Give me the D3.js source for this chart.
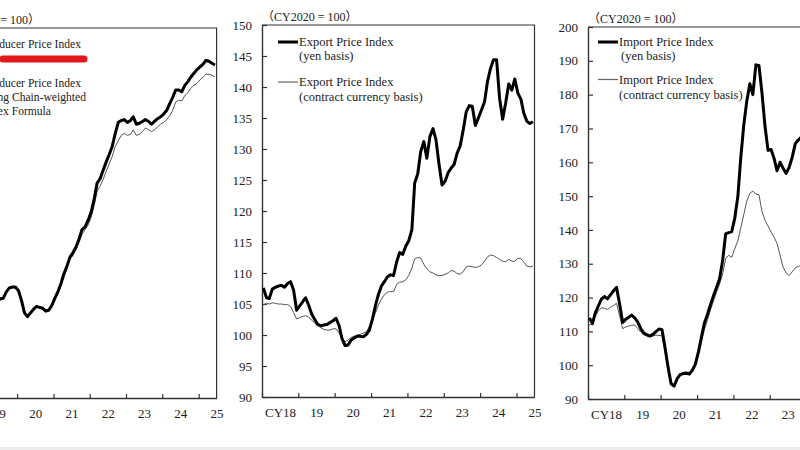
<!DOCTYPE html>
<html><head><meta charset="utf-8">
<script src="https://cdn.jsdelivr.net/npm/d3@7"></script>
<style>
body{margin:0;background:#fff}
svg{display:block}
text{font-family:"Liberation Serif","Times New Roman",serif;fill:#222}
</style>
</head><body>
<svg id="c" width="800" height="450"></svg>
<script>
// ---------- categories / tick labels ----------
const yearLabels = ["CY18","19","20","21","22","23","24","25"];
const months = d3.timeMonths(new Date(2018,0,1), new Date(2025,6,1)); // Jan 2018 .. Jun 2025
const ppiTicks = [90,95,100,105,110,115,120,125,130];
const exportTicks = [90,95,100,105,110,115,120,125,130,135,140,145,150];
const importTicks = [90,100,110,120,130,140,150,160,170,180,190,200];

// ---------- series (CY2020 = 100) ----------
const ppi = [101.2,101.3,101.2,101.5,101.8,101.9,102.2,102.4,102.4,102.6,102.2,101.5,
 101.6,101.8,101.7,101.6,101.2,100.9,100.7,100.8,101.5,101.9,102.0,102.0,
 101.6,100.5,99.2,98.8,99.2,99.6,99.9,99.8,99.7,99.4,99.5,100.0,
 100.8,101.5,102.3,103.4,104.2,105.2,105.7,106.3,107.2,108.2,108.5,109.2,
 110.1,111.5,113.2,113.7,114.6,115.5,116.3,117.2,118.6,119.8,120.0,120.1,
 119.8,120.0,120.4,119.6,119.7,119.9,120.1,119.9,119.6,119.9,120.2,120.4,
 120.7,121.1,121.8,122.5,123.3,123.3,123.1,123.8,124.2,124.7,125.1,125.5,
 125.8,126.1,126.5,126.4,126.2,126.0];
const ppiChain = [101.1,101.2,101.1,101.4,101.7,101.8,102.1,102.3,102.3,102.5,102.1,101.4,
 101.5,101.7,101.6,101.5,101.1,100.8,100.6,100.7,101.4,101.8,101.9,101.9,
 101.5,100.4,99.1,98.7,99.1,99.5,99.8,99.7,99.6,99.3,99.4,99.9,
 100.6,101.3,102.1,103.1,103.9,105.0,105.4,106.0,106.8,107.7,108.2,108.7,
 109.5,110.8,112.3,112.9,113.6,114.5,115.3,116.1,117.2,117.8,118.4,118.6,
 118.4,118.5,119.0,118.4,118.5,118.8,119.2,119.0,118.8,119.0,119.3,119.6,
 119.8,120.1,120.5,121.1,122.0,122.2,122.1,122.7,123.0,123.5,123.8,124.0,
 124.4,124.7,125.0,125.0,124.9,124.7];
const exportYen = [107.6,106.0,105.9,107.4,107.7,107.9,108.0,107.7,108.3,108.6,107.2,104.0,
 104.7,105.4,106.0,104.8,103.4,102.5,101.7,101.5,101.6,101.7,102.0,102.3,
 102.7,101.5,99.4,98.3,98.4,99.2,99.5,99.8,99.8,99.7,100.1,100.8,
 102.6,104.8,106.5,107.9,108.6,109.4,109.7,109.6,111.8,113.3,113.0,114.3,
 115.2,117.0,124.5,126.0,129.6,131.2,128.5,132.0,133.3,131.5,127.5,124.2,
 124.8,126.2,126.9,127.5,129.3,130.5,133.0,136.0,137.0,136.9,133.8,135.0,
 136.3,137.6,140.8,143.0,144.4,144.4,138.2,134.8,137.5,140.5,139.5,141.3,
 139.0,138.0,135.8,134.5,134.1,134.4];
const exportContract = [104.9,105.1,105.0,105.2,105.1,105.0,105.0,104.9,104.9,104.6,103.6,102.6,
 102.8,103.0,103.1,102.9,102.4,101.9,101.5,101.2,100.9,100.8,100.8,101.0,
 101.0,100.3,99.5,98.9,99.2,99.6,99.8,100.0,100.1,100.3,100.5,101.4,
 102.5,103.6,104.8,105.8,106.5,106.9,107.0,107.0,108.2,108.5,108.6,108.9,
 109.6,110.8,112.3,112.5,112.4,111.4,110.7,110.2,110.0,109.7,109.6,109.6,
 109.8,110.0,110.4,110.3,109.9,109.8,110.2,111.0,111.1,111.0,110.9,111.0,
 111.3,111.9,112.6,112.9,112.8,112.5,112.2,111.9,111.8,112.2,111.9,111.9,
 112.4,112.3,111.8,111.1,111.0,111.1];
const importYen = [114.0,112.3,115.5,117.5,119.5,120.3,119.6,120.8,122.0,123.0,118.0,112.6,
 113.6,114.2,114.8,114.0,112.8,110.8,109.5,109.0,108.6,109.1,109.9,110.7,
 110.5,105.0,99.5,94.5,93.8,96.0,97.2,97.5,97.6,97.4,98.5,100.3,
 104.0,108.5,112.4,115.0,117.8,120.5,123.0,125.5,131.0,138.8,139.2,139.5,
 143.5,150.0,161.0,171.0,178.0,183.2,180.0,188.8,188.6,180.5,170.5,163.5,
 163.8,161.0,157.5,160.0,158.2,156.7,158.5,161.5,165.5,166.6,167.5,170.0,
 172.0,174.0,175.5,174.5,169.0,164.0,165.0,167.0,168.5,170.0,169.0,166.5,
 163.0,160.5,158.5,157.0,157.5,158.0];
const importContract = [111.9,112.2,114.5,116.0,117.0,116.8,116.5,117.1,117.7,118.3,114.5,110.8,
 111.3,111.6,111.8,111.9,110.8,109.8,109.0,108.6,108.4,108.6,108.9,108.8,
 108.7,104.0,99.0,94.6,94.0,96.2,97.5,97.9,98.0,97.8,98.6,100.0,
 103.0,107.0,110.5,113.3,116.3,119.0,121.5,124.0,127.0,131.5,132.5,131.9,
 134.5,136.8,140.5,144.5,148.5,150.8,151.5,150.6,150.4,145.5,142.8,141.2,
 139.3,137.8,136.0,132.5,129.0,127.3,126.5,127.6,128.8,129.2,129.5,130.0,
 130.5,131.5,132.0,131.0,129.5,128.5,128.0,128.5,129.0,129.5,129.0,128.0,
 127.0,126.0,125.0,124.5,124.5,124.0];

// ---------- layout ----------
const svg = d3.select("#c");
svg.append("rect").attr("x",0).attr("y",447).attr("width",800).attr("height",3).attr("fill","#ececec");

const panels = [
  {x0:-55.4, x1:216.6, top:28, bot:398, dom:[90,130], ticks:ppiTicks,
   thick:ppi, thin:ppiChain, legend:null},
  {x0:262, x1:534.5, top:25, bot:397, dom:[90,150], ticks:exportTicks,
   thick:exportYen, thin:exportContract,
   legend:{lx:278, tx:299, tx2:299, y1:42, y2:82,
     t:["Export Price Index","(yen basis)","Export Price Index","(contract currency basis)"]}},
  {x0:588, x1:860.5, top:27, bot:399, dom:[90,200], ticks:importTicks,
   thick:importYen, thin:importContract,
   legend:{lx:598, tx:619, tx2:621, y1:42, y2:79.5,
     t:["Import Price Index","(yen basis)","Import Price Index","(contract currency basis)"]}}
];

panels.forEach(p => {
  const g = svg.append("g");
  const x = d3.scaleTime().domain([new Date(2018,0,1), new Date(2025,6,1)]).range([p.x0, p.x1]);
  const y = d3.scaleLinear().domain(p.dom).range([p.bot, p.top]);
  const mid = d => new Date(d.getFullYear(), d.getMonth(), 15);

  // title
  g.append("text").attr("x", p.x0).attr("y", p.top - 4.5).attr("font-size", 12)
    .style("font-family", "'Liberation Serif','Noto Sans CJK JP',serif")
    .text("（CY2020 = 100）");

  // frame (top & right)
  g.append("path").attr("d", `M${p.x0},${p.top}H${p.x1}V${p.bot}`)
    .attr("fill","none").attr("stroke","#333").attr("stroke-width",1.2);

  // y axis
  const ya = g.append("g").attr("transform",`translate(${p.x0},0)`)
    .call(d3.axisLeft(y).tickValues(p.ticks).tickSizeInner(-5).tickSizeOuter(0).tickPadding(10));
  // x axis ticks at year boundaries
  const xa = g.append("g").attr("transform",`translate(0,${p.bot})`)
    .call(d3.axisBottom(x).ticks(d3.timeYear.every(1)).tickSizeInner(-4).tickSizeOuter(0).tickFormat(""));
  // x labels centred on each year
  const midYears = yearLabels.map((l,i) => new Date(2018+i,6,1));
  const xl = g.append("g").attr("transform",`translate(0,${p.bot})`)
    .call(d3.axisBottom(x).tickValues(midYears).tickSize(0).tickPadding(11)
      .tickFormat((d,i) => yearLabels[i]));
  xl.select(".domain").remove();
  [ya, xa, xl].forEach(a => {
    a.selectAll("text").attr("font-size", 13).style("font-family","'Liberation Serif',serif").attr("fill","#222");
    a.selectAll("line").attr("stroke","#333").attr("stroke-width",1.2);
    a.selectAll(".domain").attr("stroke","#333").attr("stroke-width",1.4);
  });

  // lines
  const line = d3.line().x((d,i) => x(mid(months[i]))).y(d => y(d));
  g.append("path").datum(p.thin).attr("d", line).attr("fill","none")
    .attr("stroke","#555").attr("stroke-width",1).attr("stroke-linejoin","round");
  g.append("path").datum(p.thick).attr("d", line).attr("fill","none")
    .attr("stroke","#000").attr("stroke-width",3).attr("stroke-linejoin","round");

  // legend
  if (p.legend) {
    const L = p.legend;
    g.append("line").attr("x1",L.lx).attr("x2",L.lx+20).attr("y1",L.y1).attr("y2",L.y1)
      .attr("stroke","#000").attr("stroke-width",3);
    g.append("line").attr("x1",L.lx).attr("x2",L.lx+20).attr("y1",L.y2).attr("y2",L.y2)
      .attr("stroke","#666").attr("stroke-width",1.2);
    const tt = [[L.tx, L.y1+4.3, L.t[0]],[L.tx2, L.y1+18.3, L.t[1]],[L.tx, L.y2+4.3, L.t[2]],[L.tx, L.y2+19.3, L.t[3]]];
    tt.forEach(([tx,ty,s]) => g.append("text").attr("x",tx).attr("y",ty).attr("font-size",12.5).text(s));
  }
});

// left panel legend (partly off-canvas)
const lg = svg.append("g").attr("font-size",11.6);
lg.append("text").attr("x",81).attr("y",47.5).attr("text-anchor","end").text("Producer Price Index");
lg.append("line").attr("x1",3).attr("x2",84).attr("y1",59).attr("y2",59)
  .attr("stroke","#e3161b").attr("stroke-width",7).attr("stroke-linecap","round");
lg.append("text").attr("x",81).attr("y",87).attr("text-anchor","end").text("Producer Price Index");
lg.append("text").attr("x",86).attr("y",101).attr("text-anchor","end").text("using Chain-weighted");
lg.append("text").attr("x",51).attr("y",114.5).attr("text-anchor","end").text("Index Formula");
</script>
</body></html>
